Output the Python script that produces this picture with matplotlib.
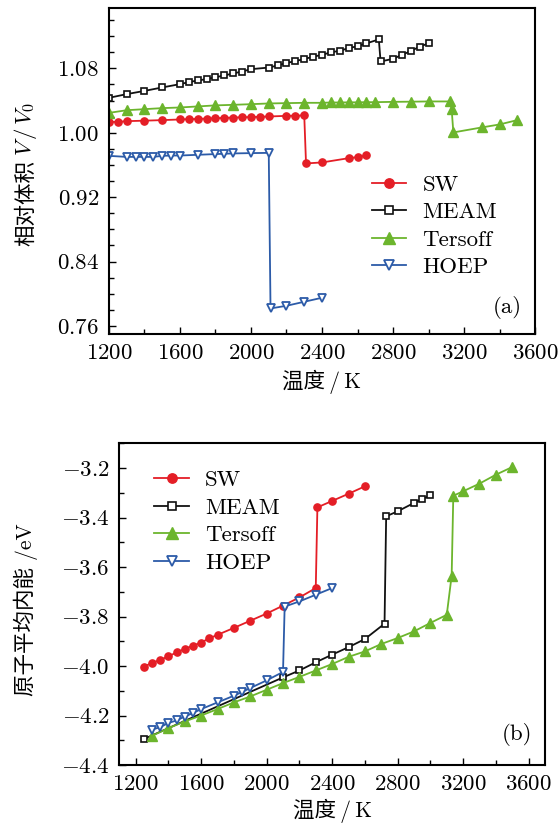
import matplotlib
matplotlib.use('Agg')
import matplotlib.pyplot as plt
from matplotlib.ticker import MultipleLocator, FuncFormatter

plt.rcParams['font.family'] = ['cmr10', 'Noto Sans CJK SC', 'DejaVu Sans']
plt.rcParams['mathtext.fontset'] = 'cm'
plt.rcParams['axes.unicode_minus'] = True

# ---- panel (a): relative volume ----
sw_t_a = [1200, 1250, 1300, 1400, 1500, 1600, 1650, 1700, 1750, 1800, 1850, 1900, 1950,
          2000, 2050, 2100, 2200, 2250, 2300, 2310, 2400, 2550, 2600, 2650]
sw_v_a = [1.0135, 1.0135, 1.0144, 1.0150, 1.0157, 1.0165, 1.0169, 1.0172, 1.0176, 1.0180,
          1.0185, 1.0189, 1.0192, 1.0195, 1.0198, 1.0202, 1.0210, 1.0212, 1.0215,
          0.9619, 0.9631, 0.9684, 0.9697, 0.9718]

meam_t_a = [1200, 1300, 1400, 1500, 1600, 1650, 1700, 1750, 1800, 1850, 1900, 1950, 2000,
            2100, 2150, 2200, 2250, 2300, 2350, 2400, 2450, 2500, 2550, 2600, 2650, 2720,
            2730, 2800, 2850, 2900, 2950, 3000]
meam_v_a = [1.0434, 1.048, 1.052, 1.0563, 1.0604, 1.0629, 1.065, 1.0666, 1.069, 1.0712,
            1.0737, 1.0761, 1.079, 1.081, 1.0836, 1.0867, 1.089, 1.0917, 1.0944, 1.0969,
            1.0998, 1.102, 1.105, 1.1076, 1.111, 1.116, 1.0886, 1.0918, 1.0968, 1.1014,
            1.107, 1.111]

ters_t_a = [1200, 1300, 1400, 1500, 1600, 1700, 1800, 1900, 2000, 2100, 2200, 2300, 2400,
            2450, 2500, 2550, 2600, 2650, 2700, 2800, 2900, 3000, 3120, 3130, 3140, 3300,
            3400, 3500]
ters_v_a = [1.0247, 1.028, 1.0293, 1.0306, 1.0314, 1.0327, 1.034, 1.0347, 1.0355, 1.0364,
            1.0368, 1.0372, 1.0372, 1.0376, 1.0376, 1.0378, 1.0378, 1.038, 1.038, 1.0384,
            1.0386, 1.0389, 1.0389, 1.030, 1.0004, 1.0066, 1.0103, 1.0157]

hoep_t_a = [1200, 1300, 1350, 1400, 1450, 1500, 1550, 1600, 1700, 1800, 1850, 1900, 2000,
            2100, 2110, 2200, 2300, 2400]
hoep_v_a = [0.9713, 0.970, 0.970, 0.970, 0.970, 0.9713, 0.9717, 0.9717, 0.9726, 0.9735,
            0.9739, 0.9743, 0.9747, 0.975, 0.7817, 0.785, 0.790, 0.795]

# ---- panel (b): mean internal energy per atom ----
sw_t_b = [1250, 1300, 1350, 1400, 1450, 1500, 1550, 1600, 1650, 1700, 1800, 1900, 2000,
          2100, 2200, 2300, 2310, 2400, 2500, 2600]
sw_e_b = [-4.002, -3.988, -3.975, -3.961, -3.945, -3.931, -3.918, -3.905, -3.888, -3.874,
          -3.846, -3.817, -3.788, -3.756, -3.723, -3.685, -3.359, -3.333, -3.304, -3.274]

meam_t_b = [1250, 2100, 2200, 2300, 2400, 2500, 2600, 2720, 2730, 2800, 2900, 2950, 3000]
meam_e_b = [-4.295, -4.046, -4.018, -3.985, -3.954, -3.924, -3.891, -3.829, -3.395, -3.375,
            -3.341, -3.325, -3.311]

ters_t_b = [1300, 1400, 1500, 1600, 1700, 1800, 1900, 2000, 2100, 2200, 2300, 2400, 2500,
            2600, 2700, 2800, 2900, 3000, 3100, 3130, 3140, 3200, 3300, 3400, 3500]
ters_e_b = [-4.282, -4.251, -4.224, -4.200, -4.174, -4.147, -4.123, -4.096, -4.069, -4.044,
            -4.018, -3.992, -3.963, -3.941, -3.911, -3.887, -3.860, -3.826, -3.793, -3.635,
            -3.312, -3.294, -3.263, -3.227, -3.196]

hoep_t_b = [1300, 1350, 1400, 1450, 1500, 1550, 1600, 1700, 1800, 1850, 1900, 2000, 2100,
            2110, 2200, 2300, 2400]
hoep_e_b = [-4.257, -4.247, -4.230, -4.220, -4.204, -4.190, -4.174, -4.147, -4.120, -4.105,
            -4.089, -4.058, -4.024, -3.760, -3.739, -3.712, -3.685]

labels = ['SW', 'MEAM', 'Tersoff', 'HOEP']
RED, BLACK, GREEN, BLUE = '#e41e26', '#111111', '#6cb52d', '#2c5ba8'
FS = 16.5      # latin text
FS_CN = 15.5   # labels with chinese
XLABEL = '温度\u2009/\u2009K'

styles = [
    dict(color=RED, marker='o', ms=5.2, mfc=RED, mec=RED),
    dict(color=BLACK, marker='s', ms=4.0, mfc='white', mec=BLACK, mew=1.2),
    dict(color=GREEN, marker='^', ms=6.5, mfc=GREEN, mec=GREEN),
    dict(color=BLUE, marker='v', ms=5.5, mfc='white', mec=BLUE, mew=1.3),
]
legend_kw = dict(frameon=False, fontsize=FS, handlelength=1.5, handletextpad=0.7,
                 labelspacing=0.32, markerscale=1.3, borderaxespad=0)


def style_axes(ax):
    for sp in ax.spines.values():
        sp.set_linewidth(1.5)
    ax.tick_params(which='both', direction='in', top=False, right=False,
                   labelsize=FS, pad=7, width=1.0)
    ax.tick_params(which='major', length=5)
    ax.tick_params(which='minor', length=3.5)


fig = plt.figure(figsize=(5.6, 8.25), dpi=100)

# panel (a)
ax1 = fig.add_axes([0.1946, 0.5952, 0.7608, 0.3951])
series_a = [(sw_t_a, sw_v_a), (meam_t_a, meam_v_a), (ters_t_a, ters_v_a), (hoep_t_a, hoep_v_a)]
for (t, v), lab, st in zip(series_a, labels, styles):
    ax1.plot(t, v, lw=1.3, label=lab, **st)
ax1.set_xlim(1200, 3600)
ax1.set_ylim(0.75, 1.155)
ax1.xaxis.set_major_locator(MultipleLocator(400))
ax1.xaxis.set_minor_locator(MultipleLocator(200))
ax1.set_yticks([0.76, 0.84, 0.92, 1.00, 1.08])
ax1.yaxis.set_minor_locator(MultipleLocator(0.02))
ax1.xaxis.set_major_formatter(FuncFormatter(lambda v, p: '$%d$' % v))
ax1.yaxis.set_major_formatter(FuncFormatter(lambda v, p: '$%.2f$' % v))
style_axes(ax1)
ax1.set_xlabel(XLABEL, fontsize=FS_CN, labelpad=5)
# y label in two pieces: chinese text + italic math part
fig.text(0.046, 0.8055, '相对体积', rotation=90, ha='center', va='top', fontsize=FS_CN)
fig.text(0.046, 0.8115, '$V\\,/\\,V_0$', rotation=90, ha='center', va='bottom', fontsize=FS)
ax1.legend(loc='center left', bbox_to_anchor=(0.596, 0.331), **legend_kw)
ax1.text(0.97, 0.045, '(a)', transform=ax1.transAxes, ha='right', va='bottom', fontsize=FS)

# panel (b)
ax2 = fig.add_axes([0.213, 0.0727, 0.7602, 0.39])
series_b = [(sw_t_b, sw_e_b), (meam_t_b, meam_e_b), (ters_t_b, ters_e_b), (hoep_t_b, hoep_e_b)]
for (t, e), lab, st in zip(series_b, labels, styles):
    ax2.plot(t, e, lw=1.3, label=lab, **st)
ax2.set_xlim(1100, 3700)
ax2.set_ylim(-4.4, -3.1)
ax2.set_xticks([1200, 1600, 2000, 2400, 2800, 3200, 3600])
ax2.xaxis.set_minor_locator(MultipleLocator(200))
ax2.set_yticks([-4.4, -4.2, -4.0, -3.8, -3.6, -3.4, -3.2])
ax2.yaxis.set_minor_locator(MultipleLocator(0.1))
ax2.xaxis.set_major_formatter(FuncFormatter(lambda v, p: '$%d$' % v))
ax2.yaxis.set_major_formatter(FuncFormatter(lambda v, p: '$%.1f$' % v))
style_axes(ax2)
ax2.set_xlabel(XLABEL, fontsize=FS_CN, labelpad=3)
fig.text(0.046, 1 - 610 / 825, '原子平均内能 /eV', rotation=90, ha='center', va='center',
         fontsize=FS_CN)
ax2.legend(loc='upper left', bbox_to_anchor=(0.061, 0.944), **legend_kw)
ax2.text(0.97, 0.06, '(b)', transform=ax2.transAxes, ha='right', va='bottom', fontsize=FS)

fig.savefig('out.png', dpi=100)
